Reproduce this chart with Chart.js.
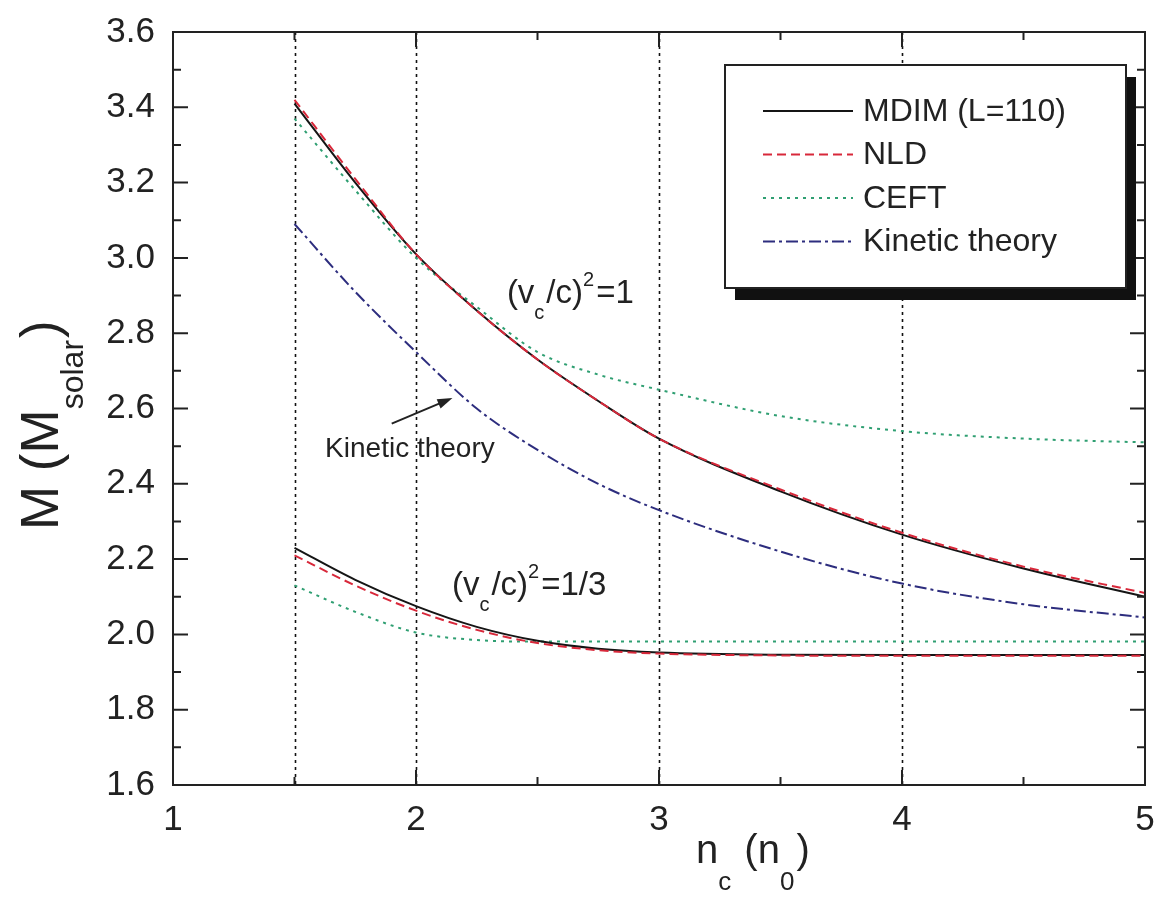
<!DOCTYPE html>
<html>
<head>
<meta charset="utf-8">
<script src="https://cdn.jsdelivr.net/npm/chart.js@4.4.0/dist/chart.umd.min.js"></script>
<style>
  html, body { margin: 0; padding: 0; background: #fff; }
  canvas { display: block; }
</style>
</head>
<body>
<canvas id="massChart" width="1158" height="899"></canvas>
<script>
// central density n_c (in units of n_0)
const nc = [1.5, 1.75, 2.0, 2.25, 2.5, 2.75, 3.0, 3.5, 4.0, 4.5, 5.0];

// maximum mass, (v_c/c)^2 = 1
const mdimStiff = [3.41, 3.20, 3.01, 2.86, 2.73, 2.62, 2.52, 2.38, 2.265, 2.175, 2.10];
const nldStiff  = [3.42, 3.21, 3.01, 2.86, 2.73, 2.62, 2.52, 2.385, 2.27, 2.18, 2.11];
const ceftStiff = [3.37, 3.18, 3.00, 2.87, 2.75, 2.69, 2.65, 2.58, 2.54, 2.52, 2.51];
const kinStiff  = [3.09, 2.91, 2.75, 2.60, 2.49, 2.40, 2.33, 2.22, 2.135, 2.08, 2.045];

// maximum mass, (v_c/c)^2 = 1/3
const mdimSoft = [2.23, 2.145, 2.075, 2.02, 1.983, 1.962, 1.952, 1.946, 1.945, 1.945, 1.945];
const nldSoft  = [2.21, 2.13, 2.063, 2.012, 1.977, 1.958, 1.949, 1.944, 1.943, 1.943, 1.943];
const ceftSoft = [2.13, 2.06, 2.005, 1.985, 1.981, 1.981, 1.981, 1.981, 1.981, 1.981, 1.981];

const xTicks = [1, 2, 3, 4, 5];
const xMinor = [1.5, 2.5, 3.5, 4.5];
const yTicks = [1.6, 1.8, 2.0, 2.2, 2.4, 2.6, 2.8, 3.0, 3.2, 3.4, 3.6];
const yMinor = [1.7, 1.9, 2.1, 2.3, 2.5, 2.7, 2.9, 3.1, 3.3, 3.5];
const guideX = [1.5, 2, 3, 4];

const legendNames = ['MDIM (L=110)', 'NLD', 'CEFT', 'Kinetic theory'];

// text placed in data coordinates
const notes = [
  { x: 2.374, y: 2.880, parts: [['(v', ''], ['c', 'sub'], ['/c)', ''], ['2', 'sup'], ['=1', '']] },
  { x: 2.148, y: 2.105, parts: [['(v', ''], ['c', 'sub'], ['/c)', ''], ['2', 'sup'], ['=1/3', '']] }
];
const kinNote = { x: 1.626, y: 2.471, text: 'Kinetic theory' };
const kinArrow = { from: [1.90, 2.56], to: [2.15, 2.628] };

const FONT = "'Liberation Sans', Arial, sans-serif";
const INK = '#222';

const styles = [
  { color: '#151515', dash: [], order: 2 },          // MDIM
  { color: '#d8283a', dash: [9, 5], order: 1 },      // NLD
  { color: '#2f9f72', dash: [3, 5], order: 3 },      // CEFT
  { color: '#2d2d7e', dash: [12, 4, 3, 4], order: 4 } // Kinetic
];

function series(label, ys, st) {
  return {
    label: label,
    data: nc.map((x, i) => ({ x: x, y: ys[i] })),
    borderColor: st.color,
    borderDash: st.dash,
    borderWidth: 2,
    pointRadius: 0,
    fill: false,
    cubicInterpolationMode: 'monotone',
    order: st.order
  };
}

function drawRich(ctx, parts, x, y, size, small, subOff, supOff) {
  let cx = x;
  parts.forEach(([t, kind]) => {
    const fs = kind ? small : size;
    const dy = kind === 'sub' ? subOff : (kind === 'sup' ? -supOff : 0);
    ctx.font = fs + 'px ' + FONT;
    ctx.fillText(t, cx, y + dy);
    cx += ctx.measureText(t).width + (kind ? 2 : 0);
  });
}

const paperPlugin = {
  id: 'paper',
  beforeDraw(chart) {
    const ctx = chart.ctx;
    ctx.save();
    ctx.fillStyle = '#fff';
    ctx.fillRect(0, 0, chart.width, chart.height);
    ctx.restore();
  },
  beforeDatasetsDraw(chart) {
    const { ctx, chartArea: a, scales: { x } } = chart;
    ctx.save();
    ctx.strokeStyle = '#111';
    ctx.lineWidth = 1.6;
    ctx.setLineDash([3, 4]);
    guideX.forEach(v => {
      const px = Math.round(x.getPixelForValue(v)) + 0.5;
      ctx.beginPath();
      ctx.moveTo(px, a.top);
      ctx.lineTo(px, a.bottom);
      ctx.stroke();
    });
    ctx.restore();
  },
  afterDatasetsDraw(chart) {
    const { ctx, chartArea: a, scales: { x, y } } = chart;
    ctx.save();

    // frame + inward ticks on all four sides
    ctx.strokeStyle = INK;
    ctx.lineWidth = 2;
    ctx.strokeRect(a.left, a.top, a.right - a.left, a.bottom - a.top);
    const tickY = (v, len) => {
      const py = y.getPixelForValue(v);
      ctx.beginPath();
      ctx.moveTo(a.left, py); ctx.lineTo(a.left + len, py);
      ctx.moveTo(a.right, py); ctx.lineTo(a.right - len, py);
      ctx.stroke();
    };
    const tickX = (v, len) => {
      const px = x.getPixelForValue(v);
      ctx.beginPath();
      ctx.moveTo(px, a.bottom); ctx.lineTo(px, a.bottom - len);
      ctx.moveTo(px, a.top); ctx.lineTo(px, a.top + len);
      ctx.stroke();
    };
    yTicks.forEach(v => tickY(v, 15));
    yMinor.forEach(v => tickY(v, 8));
    xTicks.forEach(v => tickX(v, 15));
    xMinor.forEach(v => tickX(v, 8));

    // curve annotations
    ctx.fillStyle = INK;
    ctx.textAlign = 'left';
    ctx.textBaseline = 'alphabetic';
    notes.forEach(n => {
      drawRich(ctx, n.parts, x.getPixelForValue(n.x), y.getPixelForValue(n.y), 33, 20, 16, 17);
    });
    ctx.font = '28px ' + FONT;
    ctx.fillText(kinNote.text, x.getPixelForValue(kinNote.x), y.getPixelForValue(kinNote.y));

    // arrow to the kinetic theory curve
    const x1 = x.getPixelForValue(kinArrow.from[0]), y1 = y.getPixelForValue(kinArrow.from[1]);
    const x2 = x.getPixelForValue(kinArrow.to[0]), y2 = y.getPixelForValue(kinArrow.to[1]);
    const ang = Math.atan2(y2 - y1, x2 - x1);
    ctx.strokeStyle = INK;
    ctx.lineWidth = 2;
    ctx.beginPath();
    ctx.moveTo(x1, y1);
    ctx.lineTo(x2 - 10 * Math.cos(ang), y2 - 10 * Math.sin(ang));
    ctx.stroke();
    ctx.beginPath();
    ctx.moveTo(x2, y2);
    ctx.lineTo(x2 - 15 * Math.cos(ang) + 5 * Math.sin(ang), y2 - 15 * Math.sin(ang) - 5 * Math.cos(ang));
    ctx.lineTo(x2 - 15 * Math.cos(ang) - 5 * Math.sin(ang), y2 - 15 * Math.sin(ang) + 5 * Math.cos(ang));
    ctx.closePath();
    ctx.fill();

    // legend box with drop shadow
    const bx = a.right - 420, by = a.top + 33, bw = 401, bh = 223;
    ctx.fillStyle = '#111';
    ctx.fillRect(bx + 10, by + 12, bw, bh);
    ctx.fillStyle = '#fff';
    ctx.fillRect(bx, by, bw, bh);
    ctx.strokeStyle = INK;
    ctx.lineWidth = 2;
    ctx.strokeRect(bx, by, bw, bh);
    ctx.font = '32px ' + FONT;
    ctx.textBaseline = 'middle';
    legendNames.forEach((name, i) => {
      const ry = by + 46 + i * 43.5;
      const st = styles[i];
      ctx.strokeStyle = st.color;
      ctx.lineWidth = 2;
      ctx.setLineDash(st.dash);
      ctx.beginPath();
      ctx.moveTo(bx + 38, ry);
      ctx.lineTo(bx + 128, ry);
      ctx.stroke();
      ctx.setLineDash([]);
      ctx.fillStyle = INK;
      ctx.fillText(name, bx + 138, ry + 1);
    });

    // axis titles
    ctx.textBaseline = 'alphabetic';
    ctx.fillStyle = INK;
    drawRich(ctx, [['n', ''], ['c', 'sub'], [' (n', ''], ['0', 'sub'], [')', '']], 696, 863, 40, 26, 27, 0);
    ctx.translate(58, 530);
    ctx.rotate(-Math.PI / 2);
    drawRich(ctx, [['M (M', ''], ['solar', 'sub'], [')', '']], 0, 0, 53, 32, 25, 0);

    ctx.restore();
  }
};

new Chart(document.getElementById('massChart'), {
  type: 'line',
  data: {
    datasets: [
      series('MDIM (L=110)', mdimStiff, styles[0]),
      series('NLD', nldStiff, styles[1]),
      series('CEFT', ceftStiff, styles[2]),
      series('Kinetic theory', kinStiff, styles[3]),
      series('MDIM (L=110) soft', mdimSoft, styles[0]),
      series('NLD soft', nldSoft, styles[1]),
      series('CEFT soft', ceftSoft, styles[2])
    ]
  },
  options: {
    responsive: false,
    animation: false,
    layout: { padding: { top: 32, right: 13, left: 0, bottom: 0 } },
    plugins: { legend: { display: false }, tooltip: { enabled: false } },
    scales: {
      x: {
        type: 'linear',
        min: 1,
        max: 5,
        afterBuildTicks: s => { s.ticks = xTicks.map(v => ({ value: v })); },
        afterFit: s => { s.height = 114; s.paddingLeft = 0; s.paddingRight = 0; },
        grid: { display: false, drawTicks: false },
        border: { display: false },
        ticks: { color: INK, padding: 14, font: { family: FONT, size: 35 }, callback: v => String(v) }
      },
      y: {
        type: 'linear',
        min: 1.6,
        max: 3.6,
        afterBuildTicks: s => { s.ticks = yTicks.map(v => ({ value: v })); },
        afterFit: s => { s.width = 173; s.paddingTop = 0; s.paddingBottom = 0; },
        grid: { display: false, drawTicks: false },
        border: { display: false },
        ticks: { color: INK, padding: 18, font: { family: FONT, size: 35 }, callback: v => v.toFixed(1) }
      }
    }
  },
  plugins: [paperPlugin]
});
</script>
</body>
</html>
